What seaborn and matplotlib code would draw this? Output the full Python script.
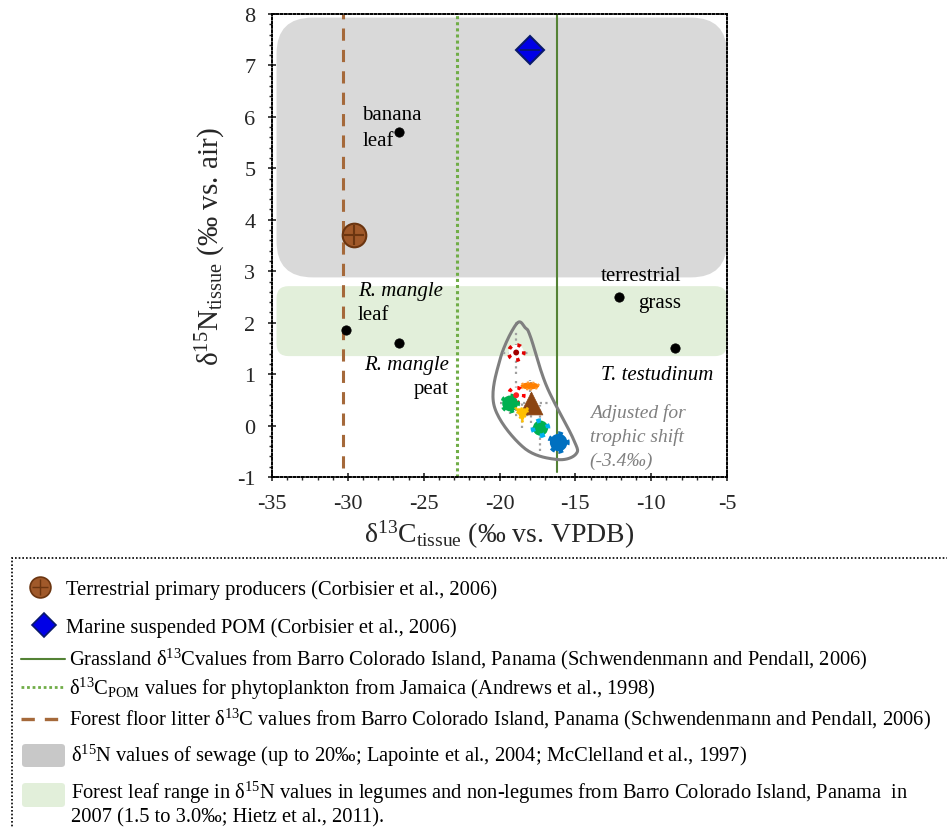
import numpy as np
import pandas as pd
import matplotlib
matplotlib.use("Agg")
import matplotlib.pyplot as plt
import seaborn as sns
from matplotlib.patches import FancyBboxPatch, Rectangle
from matplotlib.lines import Line2D
from matplotlib.path import Path
from matplotlib.transforms import Affine2D

sns.set_style("ticks")
plt.rcParams["font.family"] = ["Liberation Serif", "DejaVu Serif"]
plt.rcParams["mathtext.fontset"] = "custom"
plt.rcParams["mathtext.rm"] = "Liberation Serif"
plt.rcParams["mathtext.it"] = "Liberation Serif:italic"

# ---- primary sources -------------------------------------------------------
source_names = ["banana leaf", "R. mangle leaf", "R. mangle peat",
                "terrestrial grass", "T. testudinum"]
source_d13c = [-26.6, -30.1, -26.6, -12.1, -8.4]
source_d15n = [5.7, 1.85, 1.6, 2.5, 1.5]

terr_producer_d13c = [-29.6]
terr_producer_d15n = [3.7]
marine_pom_d13c = [-18.0]
marine_pom_d15n = [7.3]

# ---- consumers adjusted for trophic shift (-3.4 permil) --------------------
consumer_ids = ["c1", "c2", "c3", "c4", "c5", "c6", "c7", "c8"]
consumer_d13c = [-18.9, -18.0, -18.9, -19.3, -17.9, -18.5, -17.3, -16.1]
consumer_d15n = [1.42, 0.77, 0.59, 0.43, 0.44, 0.20, -0.05, -0.33]
consumer_d13c_sd = [0.85, 0.5, 0.3, 0.7, 1.3, 0.45, 0.55, 0.45]
consumer_d15n_sd = [0.42, 0.12, 0.3, 0.2, 0.4, 0.25, 0.45, 0.22]

# outline of the adjusted consumer group
group_outline_d13c = [-18.87, -18.3, -17.95, -16.9, -15.15, -14.95, -16.2,
                      -18.4, -20.35, -19.95]
group_outline_d15n = [1.98, 1.9, 1.72, 0.77, -0.25, -0.55, -0.66,
                      -0.43, 0.38, 1.3]

# ---- reference d13C values and d15N ranges ----------------------------------
grassland_d13c = -16.2
phytoplankton_d13c = -22.8
litter_d13c = -30.3
sewage_d15n = [2.88, 7.93]
forest_leaf_d15n = [1.35, 2.71]

x_ticks = [-35, -30, -25, -20, -15, -10, -5]
y_ticks = [-1, 0, 1, 2, 3, 4, 5, 6, 7, 8]

W, H = 947, 828
fig = plt.figure(figsize=(W / 100, H / 100), dpi=100)
ax_rect = [272 / W, 1 - 478 / H, 455 / W, 463 / H]
ax = fig.add_axes(ax_rect)
ax.set_xlim(-35, -5)
ax.set_ylim(-1, 8)

x_per_px = 30 / 455
y_per_px = 9 / 463
aspect = y_per_px / x_per_px

# shaded reference ranges with rounded corners
sewage = FancyBboxPatch((-34.7, sewage_d15n[0]), 29.7, sewage_d15n[1] - sewage_d15n[0],
                        boxstyle=f"round,pad=0,rounding_size={36 * x_per_px}",
                        mutation_aspect=aspect, facecolor="#d9d9d9",
                        edgecolor="none", zorder=0)
ax.add_patch(sewage)
leaf = FancyBboxPatch((-34.7, forest_leaf_d15n[0]), 29.7,
                      forest_leaf_d15n[1] - forest_leaf_d15n[0],
                      boxstyle=f"round,pad=0,rounding_size={12 * x_per_px}",
                      mutation_aspect=aspect, facecolor="#e2efda",
                      edgecolor="none", zorder=0)
ax.add_patch(leaf)

# reference d13C lines
ax.axvline(grassland_d13c, ymin=0.01, ymax=1, color="#548235", lw=1.5, zorder=1)
ax.axvline(phytoplankton_d13c, ymin=0.0, ymax=1, color="#70ad47", lw=2.2,
           ls=(0, (1, 1)), zorder=1)
ax.axvline(litter_d13c, ymin=0.02, ymax=1, color="#a5693a", lw=2.2,
           ls=(0, (4, 3)), zorder=1)

# consumer group outline (smooth closed curve)
px = np.array(group_outline_d13c)
py = np.array(group_outline_d15n)
n = len(px)
cx, cy = [], []
for i in range(n):
    p0 = np.array([px[i - 1], py[i - 1]])
    p1 = np.array([px[i], py[i]])
    p2 = np.array([px[(i + 1) % n], py[(i + 1) % n]])
    p3 = np.array([px[(i + 2) % n], py[(i + 2) % n]])
    for t in np.linspace(0, 1, 20, endpoint=False):
        pt = 0.5 * ((2 * p1) + (-p0 + p2) * t + (2 * p0 - 5 * p1 + 4 * p2 - p3) * t ** 2
                    + (-p0 + 3 * p1 - 3 * p2 + p3) * t ** 3)
        cx.append(pt[0])
        cy.append(pt[1])
cx.append(cx[0])
cy.append(cy[0])
ax.plot(cx, cy, color="#7f7f7f", lw=2.2, zorder=2)

# consumer error bars (dotted)
eb = ax.errorbar(consumer_d13c, consumer_d15n, xerr=consumer_d13c_sd,
                 yerr=consumer_d15n_sd, fmt="none", ecolor="#a0a0a0",
                 elinewidth=1.6, zorder=2)
for lc in eb[2]:
    lc.set_linestyle((0, (1, 1.5)))

# consumer markers
cons = pd.DataFrame({"id": consumer_ids, "d13c": consumer_d13c, "d15n": consumer_d15n})
ellipse = Path.unit_circle().transformed(Affine2D().scale(1.6, 0.6))
styles = {
    "c1": dict(marker="o", s=120, facecolor="white", edgecolor="#e00000", lw=2.6, ls=":"),
    "c2": dict(marker=ellipse, s=180, facecolor="#ff7f00", edgecolor="#ff9a30", lw=1.5, ls=":"),
    "c3": dict(marker="o", s=120, facecolor="white", edgecolor="#ff0000", lw=2.6, ls=":"),
    "c4": dict(marker="o", s=130, facecolor="#00b050", edgecolor="#00b050", lw=2.8, ls=":"),
    "c5": dict(marker="^", s=270, facecolor="#8b4513", edgecolor="#8b4513", lw=0.5, ls="-"),
    "c6": dict(marker="v", s=100, facecolor="#ffc000", edgecolor="#ffc000", lw=1.5, ls=":"),
    "c7": dict(marker="o", s=120, facecolor="#00b050", edgecolor="#00b0f0", lw=3.2, ls=":"),
    "c8": dict(marker="o", s=160, facecolor="#0070c0", edgecolor="#0070c0", lw=3.2, ls=":"),
}
for cid in consumer_ids:
    st = styles[cid]
    sub = cons[cons["id"] == cid]
    sns.scatterplot(data=sub, x="d13c", y="d15n", ax=ax, marker=st["marker"], s=st["s"],
                    color=st["facecolor"], edgecolor=st["edgecolor"],
                    linewidth=st["lw"], linestyle=st["ls"], zorder=4, legend=False)
# dark centres of the ringed markers
sns.scatterplot(x=[consumer_d13c[0], consumer_d13c[2]], y=[consumer_d15n[0], consumer_d15n[2]],
                ax=ax, color=["#a00000", "#ff2020"], s=18, edgecolor="none",
                zorder=5, legend=False)

# primary sources
sns.scatterplot(x=source_d13c, y=source_d15n, ax=ax, color="black", s=45,
                edgecolor="black", zorder=4, legend=False)
ax.plot(terr_producer_d13c, terr_producer_d15n, marker="o", ms=17, color="#a0592a",
        mec="#6b3510", mew=1.5, ls="none", zorder=4)
ax.plot(terr_producer_d13c, terr_producer_d15n, marker="+", ms=15, color="#6b3510",
        mew=1.5, ls="none", zorder=5)
ax.plot(marine_pom_d13c, marine_pom_d15n, marker="D", ms=14, color="#0000e6",
        mec="#0a1a6b", mew=1.5, ls="none", zorder=4)
ax.plot(marine_pom_d13c, marine_pom_d15n, marker="_", ms=15, color="#0a1a6b",
        mew=1.2, ls="none", zorder=5)

# point labels
lab = dict(fontsize=15, color="black", zorder=6)
ax.text(-29.05, 6.05, "banana", ha="left", va="center", **lab)
ax.text(-29.05, 5.55, "leaf", ha="left", va="center", **lab)
ax.text(-29.35, 2.63, "R. mangle", ha="left", va="center", style="italic", **lab)
ax.text(-29.35, 2.16, "leaf", ha="left", va="center", **lab)
ax.text(-23.35, 1.19, "R. mangle", ha="right", va="center", style="italic", **lab)
ax.text(-23.35, 0.72, "peat", ha="right", va="center", **lab)
ax.text(-8.0, 2.92, "terrestrial", ha="right", va="center", **lab)
ax.text(-8.0, 2.40, "grass", ha="right", va="center", **lab)
ax.text(-13.3, 1.0, "T. testudinum", ha="left", va="center", style="italic", **lab)
adj = dict(ha="left", va="center", style="italic", fontsize=14, color="#808080")
ax.text(-14.05, 0.27, "Adjusted for", **adj)
ax.text(-14.05, -0.2, "trophic shift", **adj)
ax.text(-14.05, -0.67, "(-3.4‰)", **adj)

# axes styling
ax.set_xticks(x_ticks)
ax.set_yticks(y_ticks)
ax.set_xticklabels([str(t) for t in x_ticks])
ax.set_yticklabels([str(t) for t in y_ticks])
ax.set_xticks(np.arange(-35, -4, 1), minor=True)
ax.set_yticks(np.arange(-1, 8.01, 0.2), minor=True)
ax.tick_params(which="major", direction="inout", length=6, width=1.2,
               labelsize=16, pad=9, top=False, right=False)
ax.tick_params(which="minor", direction="out", length=2.5, width=1.0,
               top=False, right=False)
for sp in ax.spines.values():
    sp.set_linestyle((0, (1, 1.2)))
    sp.set_linewidth(1.4)
    sp.set_color("black")
    sp.set_visible(True)
ax.set_xlabel("δ$^{13}$C$_{\\mathrm{tissue}}$ (‰ vs. VPDB)", fontsize=20, labelpad=4)
ax.set_ylabel("δ$^{15}$N$_{\\mathrm{tissue}}$ (‰ vs. air)", fontsize=21, labelpad=6)
ax.set_facecolor("white")


# ---- legend panel ---------------------------------------------------------
def fx(p):
    return p / W


def fy(p):
    return 1 - p / H


fig.patches.append(Rectangle((fx(12), fy(840)), fx(960) - fx(12), fy(559) - fy(840),
                             transform=fig.transFigure, fill=False, edgecolor="black",
                             lw=1.2, ls=(0, (1, 1.2)), clip_on=False))

ltxt = dict(fontsize=14.8, va="center", ha="left", color="black")
fig.add_artist(Line2D([fx(40)], [fy(588)], marker="o", ms=15, color="#a0592a",
                      mec="#6b3510", mew=1.2, ls="none"))
fig.add_artist(Line2D([fx(40)], [fy(588)], marker="+", ms=12, color="#6b3510",
                      mew=1.0, ls="none"))
fig.text(fx(66), fy(590), "Terrestrial primary producers (Corbisier et al., 2006)", **ltxt)

fig.add_artist(Line2D([fx(44)], [fy(626)], marker="D", ms=12, color="#0000e6",
                      mec="#0a1a6b", mew=1.2, ls="none"))
fig.text(fx(66), fy(628), "Marine suspended POM (Corbisier et al., 2006)", **ltxt)

fig.add_artist(Line2D([fx(21), fx(65)], [fy(660), fy(660)], color="#548235", lw=1.5))
fig.text(fx(69), fy(659),
         "Grassland δ$^{13}$Cvalues from Barro Colorado Island, Panama (Schwendenmann and Pendall, 2006)",
         **ltxt)

fig.add_artist(Line2D([fx(21), fx(65)], [fy(688), fy(688)], color="#70ad47", lw=2.0,
                      ls=(0, (1, 1))))
fig.text(fx(69), fy(689),
         "δ$^{13}$C$_{\\mathrm{POM}}$ values for phytoplankton from Jamaica (Andrews et al., 1998)",
         **ltxt)

fig.add_artist(Line2D([fx(21), fx(65)], [fy(720), fy(720)], color="#a5693a", lw=2.4,
                      ls=(0, (4, 3))))
fig.text(fx(69), fy(719),
         "Forest floor litter δ$^{13}$C values from Barro Colorado Island, Panama (Schwendenmann and Pendall, 2006)",
         **ltxt)

fig.patches.append(FancyBboxPatch((fx(22), fy(768)), fx(43), fy(745) - fy(768),
                                  boxstyle="round,pad=0,rounding_size=0.004",
                                  transform=fig.transFigure, facecolor="#c8c8c8",
                                  edgecolor="none"))
fig.text(fx(71), fy(756),
         "δ$^{15}$N values of sewage (up to 20‰; Lapointe et al., 2004; McClelland et al., 1997)",
         **ltxt)

fig.patches.append(FancyBboxPatch((fx(22), fy(808)), fx(43), fy(784) - fy(808),
                                  boxstyle="round,pad=0,rounding_size=0.004",
                                  transform=fig.transFigure, facecolor="#e2efda",
                                  edgecolor="none"))
fig.text(fx(71), fy(793),
         "Forest leaf range in δ$^{15}$N values in legumes and non-legumes from Barro Colorado Island, Panama  in",
         **ltxt)
fig.text(fx(71), fy(818), "2007 (1.5 to 3.0‰; Hietz et al., 2011).", **ltxt)

fig.savefig("out.png", dpi=100, facecolor="white")
